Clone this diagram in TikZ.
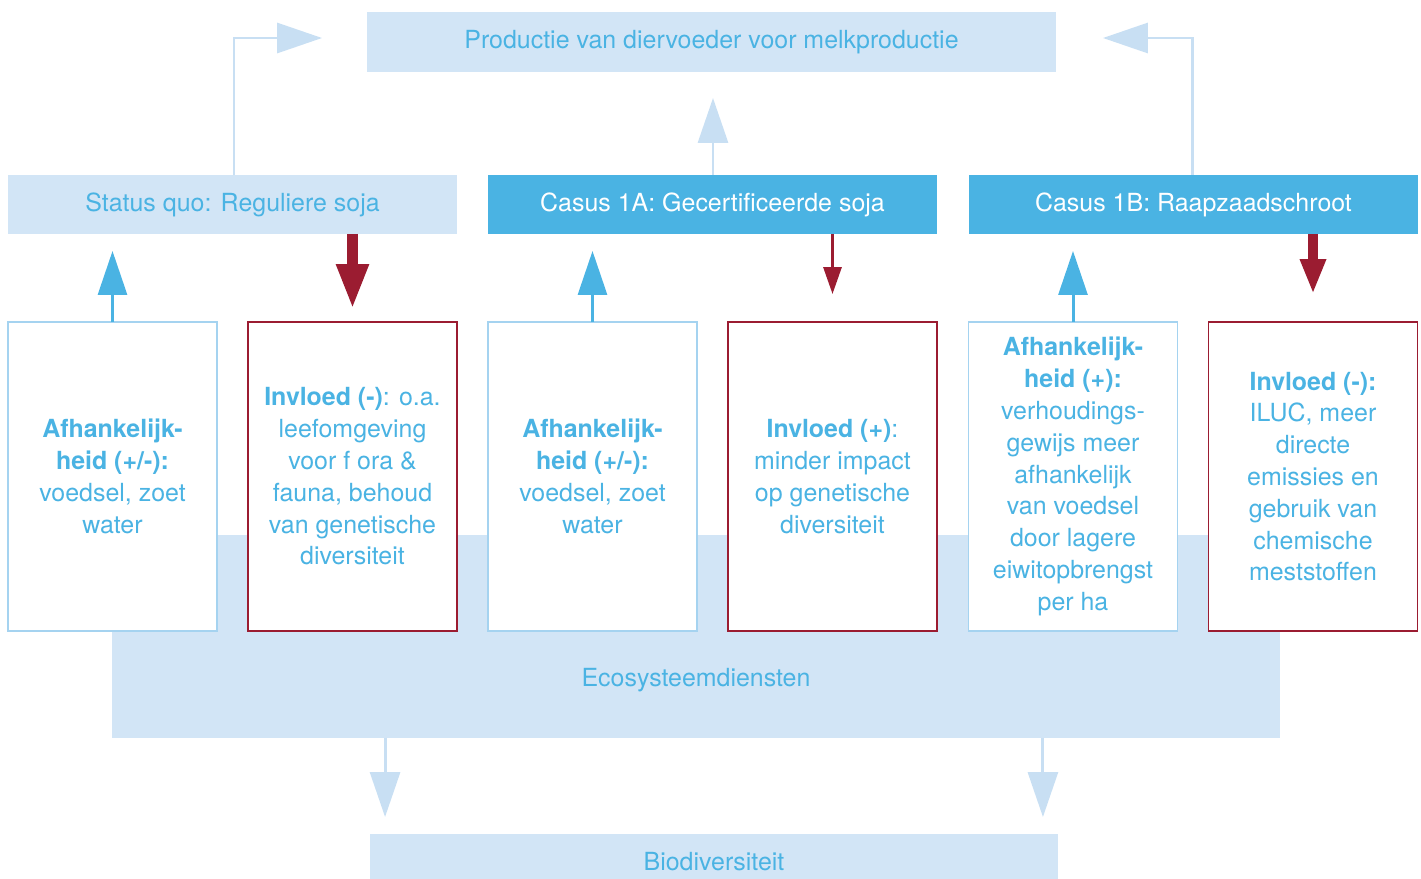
\documentclass[tikz,border=0pt]{standalone}
\usepackage{fontspec}
\setmainfont{TeX Gyre Heros}
\usetikzlibrary{arrows.meta}
\definecolor{lichtblauw}{RGB}{210,229,246}
\definecolor{blauw}{RGB}{74,179,227}
\definecolor{rood}{RGB}{155,28,49}
\definecolor{pijlblauw}{RGB}{200,223,243}
\definecolor{randblauw}{RGB}{165,211,240}

\tikzset{
  tekst/.style={font=\fontsize{14.2}{18.1}\selectfont, align=center},
  vlak/.style={tekst, fill=lichtblauw, text=blauw, inner sep=0pt, outer sep=0pt},
  casus/.style={tekst, fill=blauw, text=white, inner sep=0pt, outer sep=0pt,
    minimum width=8.98cm, minimum height=1.18cm},
  afhbox/.style={tekst, draw=randblauw, line width=0.8pt, fill=white, text=blauw,
    inner sep=0pt, outer sep=0pt, minimum width=4.18cm, minimum height=6.18cm},
  invbox/.style={afhbox, draw=rood},
  oppijl/.style={draw=blauw, line width=1.7pt, -{Triangle[width=0.58cm,length=0.88cm]}},
  lichtpijl/.style={draw=pijlblauw, line width=1.7pt,
    -{Triangle[width=0.6cm,length=0.9cm]}}
}

\begin{document}
\begin{tikzpicture}[x=0.02cm, y=-0.02cm]
  \useasboundingbox (0,0) rectangle (1421,879);

  %%%%% bovenste rij %%%%%
  \node[vlak, minimum width=13.78cm, minimum height=1.2cm] (voer) at (711.5,42)
    {Productie van diervoeder voor melkproductie};
  \node[vlak, minimum width=8.98cm, minimum height=1.18cm] (quo) at (232.5,204.5)
    {Status quo: Reguliere soja};
  \node[casus] (casa) at (712.5,204.5) {Casus 1A: Gecertificeerde soja};
  \node[casus] (casb) at (1193.5,204.5) {Casus 1B: Raapzaadschroot};

  %%%%% ecosysteemdiensten en biodiversiteit %%%%%
  \node[vlak, minimum width=23.36cm, minimum height=4.06cm] (eco) at (696,636.5) {};
  \node[tekst, text=blauw] (ecotekst) at (696,680) {Ecosysteemdiensten};
  \node[vlak, minimum width=13.76cm, minimum height=1.12cm] (bio) at (714,862)
    {Biodiversiteit};

  %%%%% afhankelijkheid en invloed %%%%%
  \node[afhbox] (afh1) at (112.5,476.5)
    {\textbf{Afhankelijk-}\\\textbf{heid (+/-):}\\voedsel, zoet\\water};
  \node[invbox] (inv1) at (352.5,476.5)
    {\textbf{Invloed (-)}: o.a.\\leefomgeving\\voor f ora \&\\fauna, behoud\\van genetische\\diversiteit};
  \node[afhbox] (afh2) at (592.5,476.5)
    {\textbf{Afhankelijk-}\\\textbf{heid (+/-):}\\voedsel, zoet\\water};
  \node[invbox] (inv2) at (832.5,476.5)
    {\textbf{Invloed (+)}:\\minder impact\\op genetische\\diversiteit};
  \node[afhbox] (afh3) at (1073,476.5)
    {\textbf{Afhankelijk-}\\\textbf{heid (+):}\\verhoudings-\\gewijs meer\\afhankelijk\\van voedsel\\door lagere\\eiwitopbrengst\\per ha};
  \node[invbox] (inv3) at (1313,476.5)
    {\textbf{Invloed (-):}\\ILUC, meer\\directe\\emissies en\\gebruik van\\chemische\\meststoffen};

  %%%%% pijlen %%%%%
  \draw[oppijl, shorten >=0.34cm] (afh1.north) -- (afh1.north |- quo.south);
  \draw[oppijl, shorten >=0.34cm] (afh2.north) -- (afh2.north |- casa.south);
  \draw[oppijl, shorten >=0.34cm] (afh3.north) -- (afh3.north |- casb.south);

  \draw[rood, line width=6.2pt, -{Triangle[width=0.6cm,length=0.9cm]}, shorten >=0.26cm]
    (inv1.north |- quo.south) -- (inv1.north);
  \draw[rood, line width=1.7pt, -{Triangle[width=0.36cm,length=0.54cm]}, shorten >=0.56cm]
    (inv2.north |- casa.south) -- (inv2.north);
  \draw[rood, line width=5.2pt, -{Triangle[width=0.48cm,length=0.7cm]}, shorten >=0.56cm]
    (inv3.north |- casb.south) -- (inv3.north);

  \draw[lichtpijl, shorten >=0.9cm] ([xshift=0.03cm]quo.north) |- ([yshift=0.08cm]voer.west);
  \draw[lichtpijl, shorten >=0.52cm] ([xshift=0.01cm]casa.north) -- ([xshift=0.01cm]casa.north |- voer.south);
  \draw[lichtpijl, shorten >=0.94cm] ([xshift=-0.03cm]casb.north) |- ([yshift=0.08cm]voer.east);

  \draw[lichtpijl, shorten >=0.34cm] ([xshift=-6.22cm]eco.south) -- ([xshift=-6.22cm]eco.south |- bio.north);
  \draw[lichtpijl, shorten >=0.34cm] ([xshift=6.94cm]eco.south) -- ([xshift=6.94cm]eco.south |- bio.north);
\end{tikzpicture}
\end{document}
